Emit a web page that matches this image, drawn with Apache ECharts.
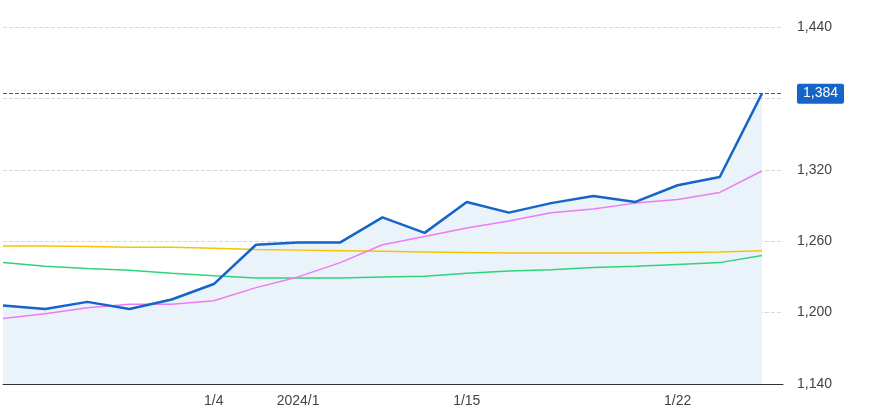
<!DOCTYPE html>
<html>
<head>
<meta charset="utf-8">
<script src="https://cdn.jsdelivr.net/npm/echarts@6/dist/echarts.min.js"></script>
<style>html,body{margin:0;padding:0;background:#fff}#chart{width:890px;height:420px}</style>
</head>
<body>
<div id="chart"></div>
<script>
const dates = ["12/27", "12/28", "12/29", "1/2", "1/3", "1/4", "1/5", "1/9", "1/10", "1/11", "1/12", "1/15", "1/16", "1/17", "1/18", "1/19", "1/22", "1/23", "1/24"];
const tickLabels = { 5: "1/4", 7: "2024/1", 11: "1/15", 16: "1/22" };
const price = [1206, 1203, 1209, 1203, 1211, 1224, 1257, 1259, 1259, 1280, 1267, 1293, 1284, 1292, 1298, 1293, 1307, 1314, 1384];
const maShort = [1195, 1199, 1204, 1207, 1207, 1210, 1221, 1230, 1242, 1257, 1264, 1271, 1277, 1284, 1287, 1292, 1295, 1301, 1319];
const maMid = [1242, 1239, 1237, 1235.5, 1233, 1231, 1229, 1229, 1229, 1230, 1230.5, 1233, 1235, 1236, 1238, 1239, 1240.5, 1242, 1248];
const maLong = [1256, 1256, 1255.5, 1255, 1255, 1254, 1253, 1252.5, 1252, 1251.5, 1251, 1250.5, 1250, 1250, 1250, 1250, 1250.5, 1251, 1252];
const lastPrice = 1384;

const pairs = (arr) => arr.map((v, i) => [i, v]);

const chart = echarts.init(document.getElementById("chart"));
chart.setOption({
  animation: false,
  grid: { left: 3, right: 107, top: 27, bottom: 36 },
  xAxis: {
    type: "value",
    min: 0,
    max: dates.length - 0.5,
    interval: 1,
    splitLine: { show: false },
    axisLine: { onZero: false, lineStyle: { color: "#333" } },
    axisTick: { show: false },
    axisLabel: {
      formatter: (v) => tickLabels[v] || "",
      showMaxLabel: false,
      color: "#444",
      fontSize: 14,
      margin: 10,
    },
  },
  yAxis: {
    type: "value",
    position: "right",
    min: 1140,
    max: 1440,
    interval: 60,
    axisLine: { show: false },
    axisTick: { show: false },
    splitLine: { lineStyle: { color: "#d8d8d8", type: "dashed" } },
    axisLabel: {
      color: "#444",
      fontSize: 14,
      margin: 14,
      formatter: (v) => (v === 1380 ? "" : v.toLocaleString("en-US")),
    },
  },
  series: [
    {
      type: "line", data: pairs(price), symbol: "none",
      lineStyle: { width: 0 },
      areaStyle: { color: "#eaf2fa", origin: "start", opacity: 1 },
      z: 1,
    },
    {
      type: "line", data: pairs(maLong), symbol: "none",
      lineStyle: { color: "#f5c400", width: 1.5 }, z: 2,
    },
    {
      type: "line", data: pairs(maMid), symbol: "none",
      lineStyle: { color: "#2ed47a", width: 1.5 }, z: 2,
    },
    {
      type: "line", data: pairs(maShort), symbol: "none",
      lineStyle: { color: "#ee7cf0", width: 1.5 }, z: 3,
    },
    {
      type: "line", data: pairs(price), symbol: "none",
      lineStyle: { color: "#1565c8", width: 2.5 },
      z: 4,
      markLine: {
        symbol: "none",
        silent: true,
        lineStyle: { color: "#1565c8", type: "dashed", width: 1 },
        data: [{ yAxis: lastPrice }],
        label: {
          position: "end",
          formatter: () => lastPrice.toLocaleString("en-US"),
          color: "#fff",
          backgroundColor: "#1565c8",
          fontSize: 14,
          padding: [3, 6, 3, 6],
          borderRadius: 2,
          distance: 14,
        },
      },
    },
  ],
});
</script>
</body>
</html>
